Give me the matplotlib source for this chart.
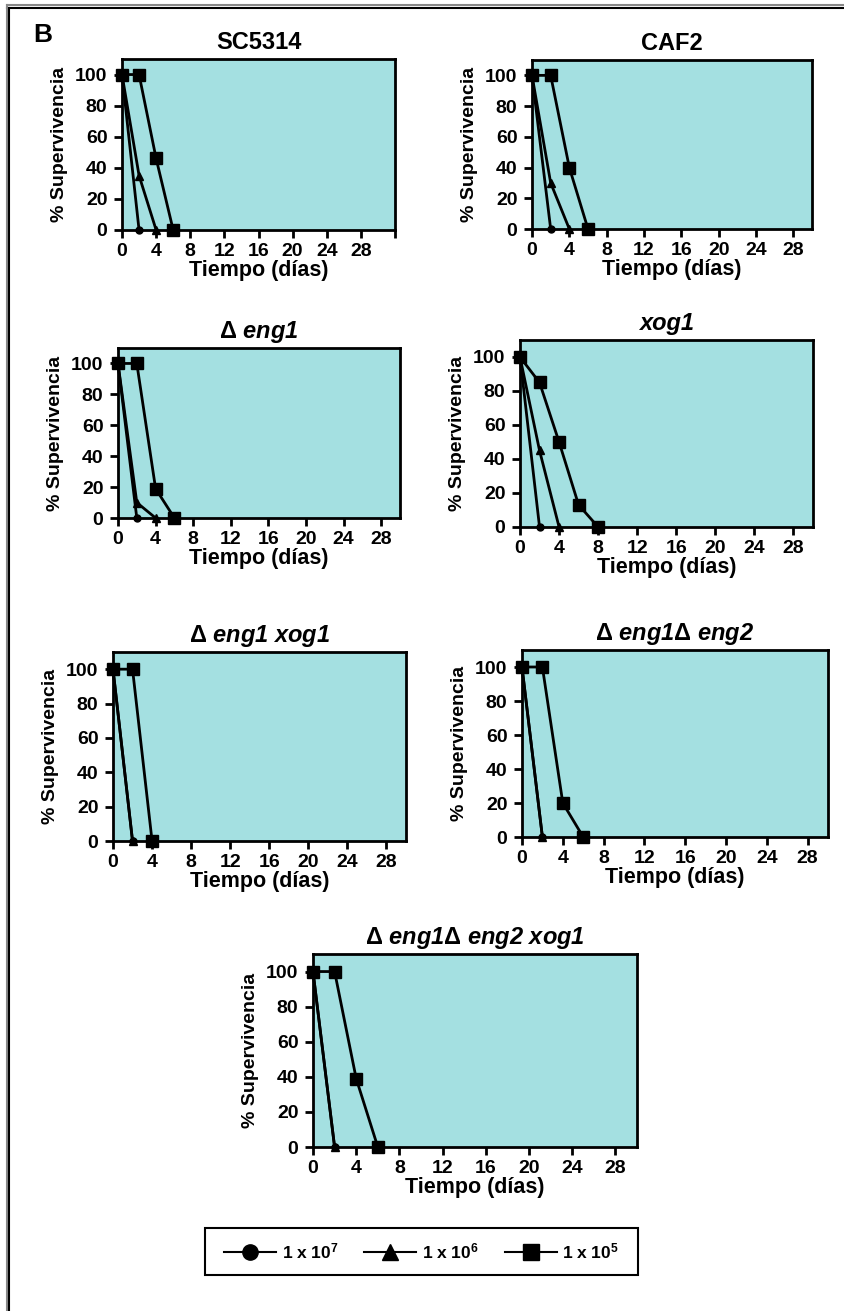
import matplotlib
matplotlib.use("Agg")
import matplotlib.pyplot as plt
from matplotlib.lines import Line2D
from matplotlib.patches import Rectangle

plt.rcParams['font.family'] = ['Liberation Sans', 'DejaVu Sans']
plt.rcParams['font.weight'] = 'bold'
plt.rcParams['mathtext.fontset'] = 'custom'
plt.rcParams['mathtext.rm'] = 'Liberation Sans:bold'
plt.rcParams['mathtext.bf'] = 'Liberation Sans:bold'
plt.rcParams['mathtext.it'] = 'Liberation Sans:italic:bold'

# datos: dias de muestreo y % de supervivencia por cepa e inoculo
dias = [0, 2, 4, 6, 8]
inoculos = [r"1 x 10$^{7}$", r"1 x 10$^{6}$", r"1 x 10$^{5}$"]

cepas = ["SC5314", "CAF2", r"$\Delta$ eng1", "xog1",
         r"$\Delta$ eng1 xog1", r"$\Delta$ eng1$\Delta$ eng2",
         r"$\Delta$ eng1$\Delta$ eng2 xog1"]
cursiva = [False, False, True, True, True, True, True]

sc5314_1e7 = [100, 0]
sc5314_1e6 = [100, 35, 0]
sc5314_1e5 = [100, 100, 46, 0]

caf2_1e7 = [100, 0]
caf2_1e6 = [100, 30, 0]
caf2_1e5 = [100, 100, 40, 0]

eng1_1e7 = [100, 0]
eng1_1e6 = [100, 10, 0]
eng1_1e5 = [100, 100, 19, 0]

xog1_1e7 = [100, 0]
xog1_1e6 = [100, 45, 0]
xog1_1e5 = [100, 85, 50, 13, 0]

eng1xog1_1e7 = [100, 0]
eng1xog1_1e6 = [100, 0]
eng1xog1_1e5 = [100, 100, 0]

eng1eng2_1e7 = [100, 0]
eng1eng2_1e6 = [100, 0]
eng1eng2_1e5 = [100, 100, 20, 0]

triple_1e7 = [100, 0]
triple_1e6 = [100, 0]
triple_1e5 = [100, 100, 39, 0]

supervivencia = [
    [sc5314_1e7, sc5314_1e6, sc5314_1e5],
    [caf2_1e7, caf2_1e6, caf2_1e5],
    [eng1_1e7, eng1_1e6, eng1_1e5],
    [xog1_1e7, xog1_1e6, xog1_1e5],
    [eng1xog1_1e7, eng1xog1_1e6, eng1xog1_1e5],
    [eng1eng2_1e7, eng1eng2_1e6, eng1eng2_1e5],
    [triple_1e7, triple_1e6, triple_1e5],
]

W, H = 845, 1311
FONDO = '#a4e0e1'

# cajas de los ejes en pixeles: izquierda, arriba, derecha, abajo
cajas = [(122, 59, 395, 230), (532, 60, 812, 229),
         (118, 348, 400, 518), (520, 340, 813, 527),
         (113, 652, 406, 841), (522, 650, 828, 837),
         (313, 954, 637, 1147)]
xmax = [32, 30, 30, 30, 30, 30, 30]

marcadores = ['o', '^', 's']
tamanos = [5, 6, 8.5]

fig = plt.figure(figsize=(W / 100, H / 100), dpi=100)

for i, (l, t, r, b) in enumerate(cajas):
    ax = fig.add_axes([l / W, 1 - b / H, (r - l) / W, (b - t) / H])
    ax.set_facecolor(FONDO)
    for vals, m, ms in zip(supervivencia[i], marcadores, tamanos):
        ax.plot(dias[:len(vals)], vals, color='black', lw=2, marker=m,
                ms=ms, clip_on=False, zorder=3)
    ax.set_xlim(0, xmax[i])
    ax.set_ylim(0, 110)
    xt = list(range(0, xmax[i] + 1, 4))
    ax.set_xticks(xt)
    ax.set_xticklabels([str(v) if v <= 28 else '' for v in xt])
    ax.set_yticks(range(0, 101, 20))
    for s in ax.spines.values():
        s.set_linewidth(2)
    ax.tick_params(axis='both', direction='out', length=5.5, width=2,
                   labelsize=14)
    ax.tick_params(axis='x', pad=4)
    ax.tick_params(axis='y', pad=5)
    for lab in ax.get_xticklabels() + ax.get_yticklabels():
        lab.set_fontweight('bold')
    ax.set_xlabel('Tiempo (días)', fontsize=15.5, fontweight='bold', labelpad=0)
    ax.set_ylabel('% Supervivencia', fontsize=14, fontweight='bold', labelpad=5)
    ax.set_title(cepas[i], fontsize=17, fontweight='bold',
                 fontstyle='italic' if cursiva[i] else 'normal', pad=7)

fig.text(33 / W, 1 - 42 / H, 'B', fontsize=19, fontweight='bold', ha='left', va='baseline')

# leyenda
manejadores = [Line2D([], [], color='black', lw=1.5, marker=m, ms=ms)
               for m, ms in zip(marcadores, [11, 11, 12])]
fig.patches.append(Rectangle((205 / W, 1 - 1275 / H), 433 / W, 47 / H,
                             transform=fig.transFigure, fill=False,
                             edgecolor='black', lw=1.5))
fig.legend(manejadores, inoculos, loc='center', ncol=3, frameon=False,
           bbox_to_anchor=(421.5 / W, 1 - 1251.5 / H), fontsize=12.5,
           handlelength=3.0, handletextpad=0.3, columnspacing=1.5)

# marco exterior
for x0, y0, x1, y1, c in [(7, 5, W, 5, '#888888'), (7, 7.5, W, 7.5, 'black'),
                          (7, 5, 7, H, '#888888'), (9.5, 7.5, 9.5, H, 'black')]:
    fig.add_artist(Line2D([x0 / W, x1 / W], [1 - y0 / H, 1 - y1 / H],
                          transform=fig.transFigure, color=c, lw=1.5))

fig.savefig('out.png', dpi=100)
